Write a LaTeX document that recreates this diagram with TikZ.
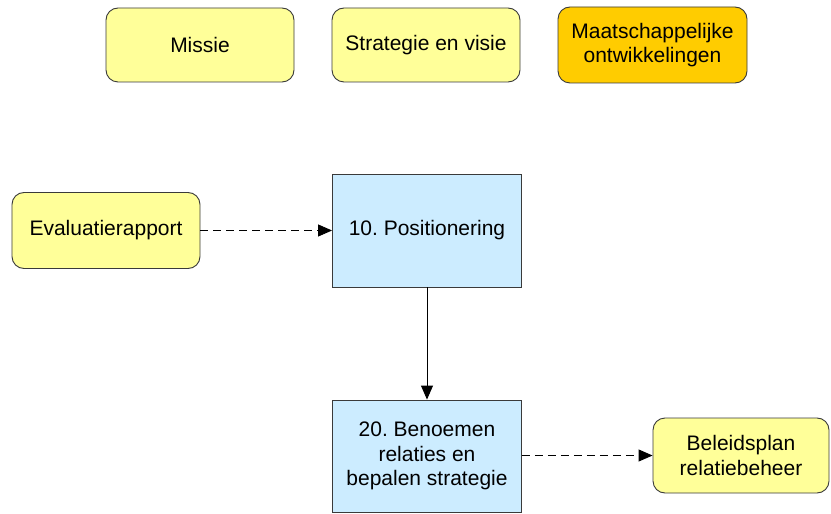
\documentclass[tikz,border=0pt]{standalone}
\usepackage{fontspec}
\setmainfont{Liberation Sans}
\usetikzlibrary{arrows.meta}
\definecolor{noteyellow}{HTML}{FFFF99}
\definecolor{trendorange}{HTML}{FFCC00}
\definecolor{stepblue}{HTML}{CCECFF}
\definecolor{edgegray}{HTML}{3A3A3A}
\frenchspacing
\begin{document}
\begin{tikzpicture}[x=1bp,y=-1bp,
  every node/.style={font=\fontsize{21bp}{24.5bp}\selectfont, align=center, inner sep=0pt},
  docbox/.style={draw=edgegray, line width=0.9bp, rounded corners=12bp, fill=noteyellow},
  trendbox/.style={docbox, fill=trendorange},
  stepbox/.style={draw=edgegray, line width=0.9bp, fill=stepblue},
  flow/.style={draw=black, line width=0.9bp, -{Triangle[length=14bp,width=12bp]}},
  feed/.style={flow, dash pattern=on 8bp off 5bp}]
  \useasboundingbox (0,0) rectangle (831,514);

  % context boxes along the top
  \node[docbox, minimum width=188bp, minimum height=74bp] (missie) at (200,45) {Missie};
  \node[docbox, minimum width=188bp, minimum height=74bp] (strategie) at (426,45) {Strategie en visie};
  \node[trendbox, minimum width=189bp, minimum height=76bp] (maatsch) at (652.5,45) {Maatschappelijke\\ontwikkelingen};

  % input document and process steps
  \node[docbox, minimum width=188bp, minimum height=76bp] (eval) at (106,230.5) {Evaluatierapport};
  \node[stepbox, minimum width=189bp, minimum height=113bp] (pos) at (427,230.5) {10. Positionering};
  \node[stepbox, minimum width=189bp, minimum height=112bp] (benoem) at (427,456) {20. Benoemen\\relaties en\\bepalen strategie};

  % output document
  \node[docbox, minimum width=176bp, minimum height=75bp] (plan) at (741,455.5) {Beleidsplan\\relatiebeheer};

  % connectors
  \draw[feed] (eval.east) -- (pos.west);
  \draw[flow] (pos.south) -- (benoem.north);
  \draw[feed] (plan.west -| benoem.east) -- (plan.west);
\end{tikzpicture}
\end{document}
